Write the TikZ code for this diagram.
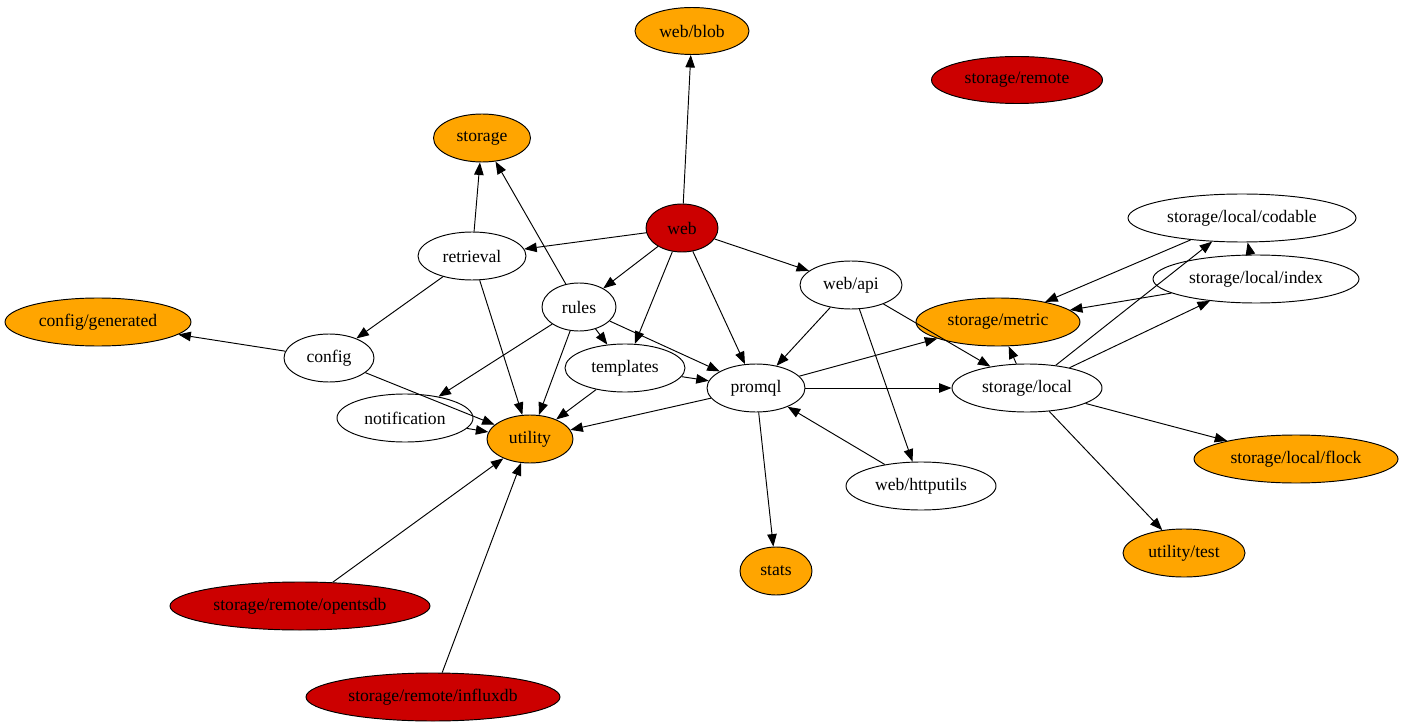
\documentclass[tikz,border=0pt]{standalone}
\usepackage{fontspec}
\setmainfont{Liberation Serif}
\usetikzlibrary{arrows.meta,shapes.geometric}
\definecolor{gvred}{HTML}{CC0000}
\definecolor{gvorange}{HTML}{FFA500}
\tikzset{
  pkg/.style={ellipse, draw=black, line width=0.95pt, inner sep=0pt, font=\fontsize{17.6}{20}\selectfont, text=black},
  plainpkg/.style={pkg, fill=white},
  redpkg/.style={pkg, fill=gvred},
  orangepkg/.style={pkg, fill=gvorange},
  dep/.style={draw=black, line width=0.95pt, -{Triangle[length=12.5pt,width=9.5pt]}},
}
\newcommand{\pk}[6]{\node[#1, minimum width=#5pt, minimum height=#6pt] (#2) at (#3) {#4};}
\begin{document}
\begin{tikzpicture}[x=1pt,y=-1pt]
\useasboundingbox (0,-2) rectangle (1403,725);
\pk{orangepkg}{blob}{692,29}{web/blob}{114}{47}
\pk{redpkg}{remote}{1017,78}{storage/remote}{171}{47}
\pk{orangepkg}{storage}{482,136}{storage}{97}{48}
\pk{redpkg}{web}{682,226}{web}{72}{48}
\pk{plainpkg}{codable}{1242,216}{storage/local/codable}{228}{48}
\pk{plainpkg}{retrieval}{472,254}{retrieval}{108}{48}
\pk{plainpkg}{index}{1256,277}{storage/local/index}{206}{48}
\pk{plainpkg}{api}{851,283}{web/api}{102}{48}
\pk{plainpkg}{rules}{579,305}{rules}{74}{48}
\pk{orangepkg}{cfggen}{98,320}{config/generated}{186}{48}
\pk{orangepkg}{metric}{998,320}{storage/metric}{164}{48}
\pk{plainpkg}{config}{329,356}{config}{90}{48}
\pk{plainpkg}{templates}{625,366}{templates}{120}{48}
\pk{plainpkg}{promql}{756,386}{promql}{98}{48}
\pk{plainpkg}{local}{1027,386}{storage/local}{150}{48}
\pk{plainpkg}{notification}{405,416}{notification}{136}{48}
\pk{orangepkg}{utility}{530,437}{utility}{86}{48}
\pk{orangepkg}{flock}{1296,457}{storage/local/flock}{204}{48}
\pk{plainpkg}{httputils}{921,484}{web/httputils}{150}{48}
\pk{orangepkg}{utest}{1184,551}{utility/test}{122}{48}
\pk{orangepkg}{stats}{776,569}{stats}{72}{48}
\pk{redpkg}{opentsdb}{300,604}{storage/remote/opentsdb}{260}{48}
\pk{redpkg}{influxdb}{433,695}{storage/remote/influxdb}{254}{48}

\draw[dep] (web) -- (blob);
\draw[dep] (web) -- (retrieval);
\draw[dep] (web) -- (rules);
\draw[dep] (web) -- (templates);
\draw[dep] (web) -- (promql);
\draw[dep] (web) -- (api);
\draw[dep] (retrieval) -- (storage);
\draw[dep] (retrieval) -- (config);
\draw[dep] (retrieval) -- (utility);
\draw[dep] (rules) -- (storage);
\draw[dep] (rules) -- (templates);
\draw[dep] (rules) -- (promql);
\draw[dep] (rules) -- (notification);
\draw[dep] (rules) -- (utility);
\draw[dep] (config) -- (cfggen);
\draw[dep] (config) -- (utility);
\draw[dep] (notification) -- (utility);
\draw[dep] (templates) -- (promql);
\draw[dep] (templates) -- (utility);
\draw[dep] (promql) -- (utility);
\draw[dep] (promql) -- (stats);
\draw[dep] (promql) -- (metric);
\draw[dep] (promql) -- (local);
\draw[dep] (api) -- (promql);
\draw[dep] (api) -- (local);
\draw[dep] (api) -- (httputils);
\draw[dep] (httputils) -- (promql);
\draw[dep] (local) -- (metric);
\draw[dep] (local) -- (codable);
\draw[dep] (local) -- (index);
\draw[dep] (local) -- (flock);
\draw[dep] (local) -- (utest);
\draw[dep] (codable) -- (metric);
\draw[dep] (index) -- (metric);
\draw[dep] (index) -- (codable);
\draw[dep] (opentsdb) -- (utility);
\draw[dep] (influxdb) -- (utility);
\end{tikzpicture}
\end{document}
